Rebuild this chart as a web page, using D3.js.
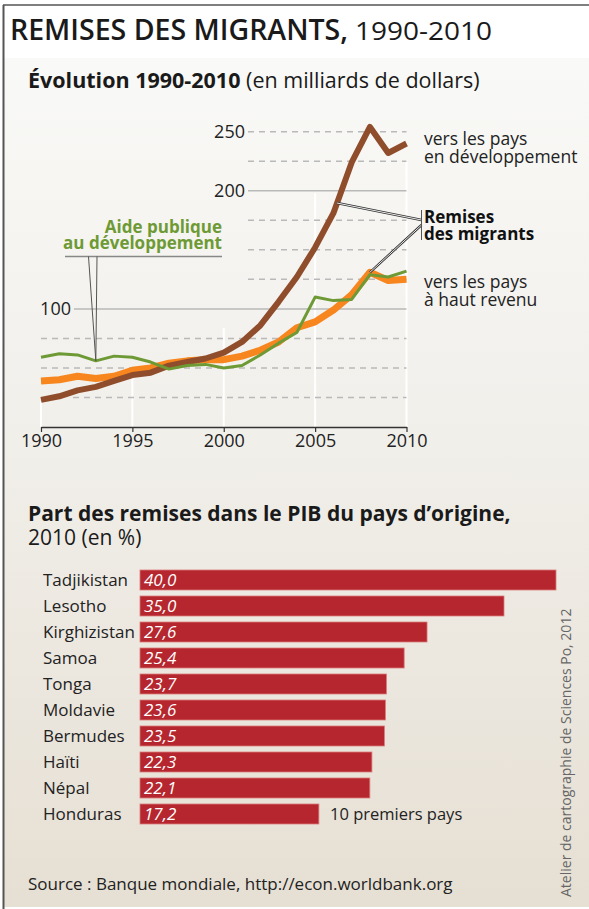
<!DOCTYPE html>
<html>
<head>
<meta charset="utf-8">
<script src="https://cdn.jsdelivr.net/npm/d3@7"></script>
<style>
  body { margin: 0; background: #fff; }
  svg { display: block; font-family: "Open Sans", "Noto Sans", sans-serif; }
</style>
</head>
<body>
<div id="chart"></div>
<script>
(function(){

  // data
  var years = [1990,1991,1992,1993,1994,1995,1996,1997,1998,1999,2000,
               2001,2002,2003,2004,2005,2006,2007,2008,2009,2010];
  var remitDev = [23,26,31,34,39,44,46,52,55,58,63,72,86,106,127,152,181,224,254,232,240];
  var remitHigh = [39,40,43,41,43,48,50,54,56,57,57,60,65,72,84,89,99,112,131,124,125];
  var aid = [59,62,61,56,60,59,55,49,52,53,50,52,61,71,80,110,107,108,129,127,132];

  var yTicks = [25,50,75,100,125,150,175,200,225,250];
  var yLabels = [100,200,250];
  var xTicks = [1990,1995,2000,2005,2010];

  var countries = ["Tadjikistan","Lesotho","Kirghizistan","Samoa","Tonga",
                   "Moldavie","Bermudes","Haïti","Népal","Honduras"];
  var shares = [40.0,35.0,27.6,25.4,23.7,23.6,23.5,22.3,22.1,17.2];

  var width = 589,
      height = 909;

  var svg = d3.select("#chart").append("svg")
      .attr("width", width)
      .attr("height", height);

  // background
  var defs = svg.append("defs");
  var grad = defs.append("linearGradient")
      .attr("id", "bg")
      .attr("x1", 0).attr("y1", 0).attr("x2", 0).attr("y2", 1);
  grad.append("stop").attr("offset", "0%").attr("stop-color", "#f9f9f7");
  grad.append("stop").attr("offset", "45%").attr("stop-color", "#f1efea");
  grad.append("stop").attr("offset", "100%").attr("stop-color", "#e6dfd3");

  svg.append("rect")
      .attr("width", width).attr("height", height)
      .attr("fill", "#fff");
  svg.append("rect")
      .attr("x", 4).attr("y", 58)
      .attr("width", width - 4).attr("height", height - 60)
      .attr("fill", "url(#bg)");

  svg.append("line")
      .attr("x1", 3).attr("x2", width).attr("y1", 5).attr("y2", 5)
      .attr("stroke", "#555").attr("stroke-width", 1.5);
  svg.append("line")
      .attr("x1", 3.5).attr("x2", 3.5).attr("y1", 5).attr("y2", height)
      .attr("stroke", "#555").attr("stroke-width", 2);

  // titles
  var title = svg.append("text")
      .attr("x", 10).attr("y", 40)
      .attr("fill", "#1a1a1a");
  title.append("tspan")
      .attr("font-size", 28).attr("font-weight", 600)
      .attr("textLength", 338).attr("lengthAdjust", "spacingAndGlyphs")
      .text("REMISES DES MIGRANTS,");
  title.append("tspan")
      .attr("dx", 7)
      .attr("font-size", 25.5)
      .attr("textLength", 137).attr("lengthAdjust", "spacingAndGlyphs")
      .text("1990-2010");

  var sub = svg.append("text")
      .attr("x", 28).attr("y", 88)
      .attr("font-size", 21.5)
      .attr("fill", "#1a1a1a");
  sub.append("tspan").attr("font-weight", 700).text("Évolution 1990-2010");
  sub.append("tspan").text(" (en milliards de dollars)");

  // line chart
  var x = d3.scaleLinear()
      .domain([1990, 2010])
      .range([41, 406.5]);

  var y = d3.scaleLinear()
      .domain([0, 250])
      .range([427, 131.7]);

  var chart = svg.append("g").attr("class", "lines");

  // white vertical guides behind the curves
  var guideTops = [22, 42, 84, 198, 226];
  chart.selectAll("line.vguide")
      .data(xTicks)
      .enter().append("line")
      .attr("class", "vguide")
      .attr("x1", function(d){ return x(d); })
      .attr("x2", function(d){ return x(d); })
      .attr("y1", y(0))
      .attr("y2", function(d,i){ return y(guideTops[i]); })
      .attr("stroke", "#fff")
      .attr("stroke-width", 2);

  chart.selectAll("line.grid")
      .data(yTicks)
      .enter().append("line")
      .attr("class", "grid")
      .attr("x1", function(d){
        if (d > 100) return 248;
        if (d == 100) return 74;
        if (d == 25) return 73;
        return 41;
      })
      .attr("x2", x(2010))
      .attr("y1", function(d){ return y(d); })
      .attr("y2", function(d){ return y(d); })
      .attr("stroke", "#b9b9b9")
      .attr("stroke-width", 1.5)
      .attr("stroke-dasharray", function(d){ return (d % 100 === 0) ? null : "6,5"; });

  chart.selectAll("text.ylab")
      .data(yLabels)
      .enter().append("text")
      .attr("class", "ylab")
      .attr("x", function(d){ return d > 100 ? 245 : 71; })
      .attr("y", function(d){ return y(d); })
      .attr("dy", "0.35em")
      .attr("text-anchor", "end")
      .attr("font-size", 18)
      .attr("fill", "#222")
      .text(function(d){ return d; });

  var xAxis = d3.axisBottom(x)
      .tickValues(xTicks)
      .tickFormat(d3.format("d"))
      .tickSize(5)
      .tickSizeOuter(0);

  var gx = chart.append("g")
      .attr("class", "xAxis")
      .attr("transform", "translate(0," + y(0) + ")")
      .call(xAxis);
  gx.select(".domain").attr("stroke", "#333").attr("stroke-width", 1.5);
  gx.selectAll(".tick line").attr("stroke", "#333").attr("stroke-width", 1.2);
  gx.selectAll(".tick text")
      .attr("font-family", "'Open Sans', sans-serif")
      .attr("font-size", 18)
      .attr("fill", "#222")
      .attr("y", 5)
      .attr("dy", "0.85em");

  var line = d3.line()
      .x(function(d,i){ return x(years[i]); })
      .y(function(d){ return y(d); });

  var series = [
    {key: "high", values: remitHigh, color: "#f7861f", width: 7},
    {key: "dev", values: remitDev, color: "#8f4d2c", width: 6},
    {key: "aid", values: aid, color: "#6e9a35", width: 3}
  ];

  chart.selectAll("path.serie")
      .data(series)
      .enter().append("path")
      .attr("class", "serie")
      .attr("fill", "none")
      .attr("stroke", function(d){ return d.color; })
      .attr("stroke-width", function(d){ return d.width; })
      .attr("stroke-linejoin", "round")
      .attr("d", function(d){ return line(d.values); });

  function valueAt(values, yr){
    var i = Math.floor(yr - 1990);
    var t = yr - 1990 - i;
    return values[i] + t * (values[i+1] - values[i]);
  }

  // annotation: aide publique
  var aidLab = svg.append("text")
      .attr("text-anchor", "end")
      .attr("font-size", 17)
      .attr("font-weight", 700)
      .attr("fill", "#6e9a35");
  aidLab.append("tspan").attr("x", 222).attr("y", 233).text("Aide publique");
  aidLab.append("tspan").attr("x", 222).attr("y", 249).text("au développement");

  svg.append("line")
      .attr("x1", 65).attr("x2", 222).attr("y1", 256.5).attr("y2", 256.5)
      .attr("stroke", "#888").attr("stroke-width", 1.5);

  [88.5, 97].forEach(function(px){
    svg.append("line")
        .attr("x1", px).attr("y1", 256.5)
        .attr("x2", x(1993)).attr("y2", y(aid[3]))
        .attr("stroke", "#555").attr("stroke-width", 1);
  });

  // annotation: remises des migrants
  var remLab = svg.append("text")
      .attr("font-size", 17)
      .attr("font-weight", 700)
      .attr("fill", "#111");
  remLab.append("tspan").attr("x", 424).attr("y", 223).text("Remises");
  remLab.append("tspan").attr("x", 424).attr("y", 240).text("des migrants");

  var pointers = [
    {from: [421.5, 220], to: [x(2006.2), y(valueAt(remitDev, 2006.2))]},
    {from: [421.5, 225], to: [x(2008), y(remitHigh[18])]}
  ];
  var ann = svg.append("g");
  ann.selectAll("line.outer")
      .data(pointers)
      .enter().append("line")
      .attr("x1", function(d){ return d.from[0]; })
      .attr("y1", function(d){ return d.from[1]; })
      .attr("x2", function(d){ return d.to[0]; })
      .attr("y2", function(d){ return d.to[1]; })
      .attr("stroke", "#333").attr("stroke-width", 2.4);
  ann.selectAll("line.inner")
      .data(pointers)
      .enter().append("line")
      .attr("x1", function(d){ return d.from[0]; })
      .attr("y1", function(d){ return d.from[1]; })
      .attr("x2", function(d){ return d.to[0]; })
      .attr("y2", function(d){ return d.to[1]; })
      .attr("stroke", "#fff").attr("stroke-width", 0.9);
  ann.append("line")
      .attr("x1", 421.5).attr("x2", 421.5).attr("y1", 210).attr("y2", 240)
      .attr("stroke", "#555").attr("stroke-width", 1);

  var rightLabs = [
    {lines: ["vers les pays", "en développement"], y: 145},
    {lines: ["vers les pays", "à haut revenu"], y: 288}
  ];
  rightLabs.forEach(function(r){
    var t = svg.append("text")
        .attr("font-size", 17.5)
        .attr("fill", "#222");
    r.lines.forEach(function(s, i){
      t.append("tspan").attr("x", 424).attr("y", r.y + i * 17.5).text(s);
    });
  });

  // bar chart
  var head = svg.append("text")
      .attr("fill", "#1a1a1a")
      .attr("font-size", 21);
  head.append("tspan")
      .attr("x", 28).attr("y", 521)
      .attr("font-weight", 700)
      .text("Part des remises dans le PIB du pays d’origine,");
  head.append("tspan")
      .attr("x", 28).attr("y", 545)
      .text("2010 (en %)");

  var bx = d3.scaleLinear()
      .domain([0, 40])
      .range([140, 556]);

  var by = d3.scaleBand()
      .domain(countries)
      .range([570, 824])
      .paddingInner(6 / 26)
      .paddingOuter(0);

  var bars = svg.append("g").attr("class", "bars");

  bars.selectAll("rect")
      .data(shares)
      .enter().append("rect")
      .attr("x", bx(0))
      .attr("y", function(d,i){ return by(countries[i]); })
      .attr("width", function(d){ return bx(d) - bx(0); })
      .attr("height", by.bandwidth())
      .attr("fill", "#b5262e")
      .attr("stroke", "#dc7b7b")
      .attr("stroke-width", 0.8);

  bars.selectAll("text.country")
      .data(countries)
      .enter().append("text")
      .attr("class", "country")
      .attr("x", 43)
      .attr("y", function(d){ return by(d) + by.bandwidth() / 2; })
      .attr("dy", "0.36em")
      .attr("font-size", 17)
      .attr("fill", "#222")
      .text(function(d){ return d; });

  bars.selectAll("text.val")
      .data(shares)
      .enter().append("text")
      .attr("class", "val")
      .attr("x", 144)
      .attr("y", function(d,i){ return by(countries[i]) + by.bandwidth() / 2; })
      .attr("dy", "0.36em")
      .attr("font-size", 17)
      .attr("font-style", "italic")
      .attr("fill", "#fff")
      .text(function(d){ return d3.format(".1f")(d).replace(".", ","); });

  svg.append("text")
      .attr("x", 330)
      .attr("y", by("Honduras") + by.bandwidth() / 2)
      .attr("dy", "0.36em")
      .attr("font-size", 16.5)
      .attr("fill", "#222")
      .text("10 premiers pays");

  // footer
  svg.append("text")
      .attr("x", 28).attr("y", 890)
      .attr("font-size", 17)
      .attr("fill", "#222")
      .text("Source : Banque mondiale, http://econ.worldbank.org");

  svg.append("text")
      .attr("transform", "translate(571,897) rotate(-90)")
      .attr("font-size", 14)
      .attr("fill", "#666")
      .text("Atelier de cartographie de Sciences Po, 2012");

})();
</script>
</body>
</html>
